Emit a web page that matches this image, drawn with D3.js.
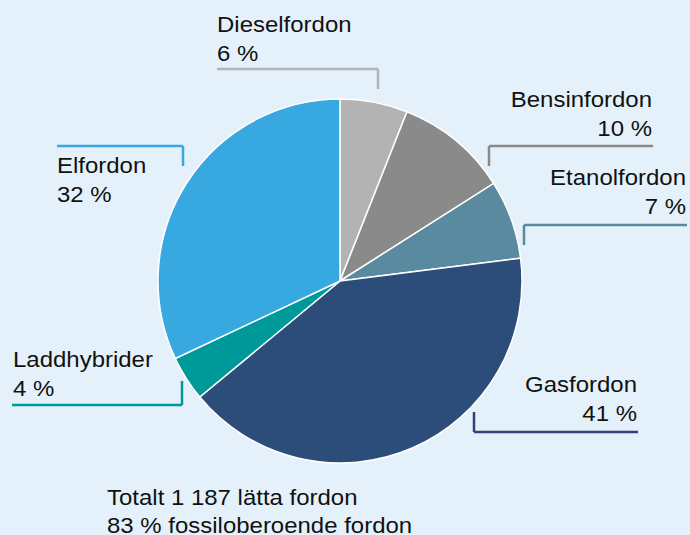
<!DOCTYPE html>
<html>
<head>
<meta charset="utf-8">
<script src="https://cdn.jsdelivr.net/npm/d3@7"></script>
<style>
  body { margin: 0; background: #e5f1fa; }
  svg text { font-family: "Liberation Sans", Arial, sans-serif; font-size: 22px; fill: #111; }
</style>
</head>
<body>
<div id="chart"></div>
<script>
var categories = ["Dieselfordon", "Bensinfordon", "Etanolfordon", "Gasfordon", "Laddhybrider", "Elfordon"];
var shares = [6, 10, 7, 41, 4, 32];
var colors = ["#b3b3b3", "#8a8a8a", "#5a8a9f", "#2c4d7a", "#00999a", "#38a8e0"];
var lineColors = ["#b3b3b3", "#8a8a8a", "#5a8a9f", "#3a3f78", "#00999a", "#38a8e0"];
var footer = ["Totalt 1 187 lätta fordon", "83 % fossiloberoende fordon"];

function init() {
    var w = 690, h = 535;
    var cx = 340, cy = 281, r = 182;
    var sx = 1.09; // reference type is set a little wider than Liberation Sans

    var svg = d3.select("#chart").append("svg")
        .attr("width", w).attr("height", h);

    var data = categories.map(function(c, i) {
        return { name: c, value: shares[i], color: colors[i], line: lineColors[i] };
    });

    var pie = d3.pie().sort(null).value(function(d) { return d.value; });
    var arc = d3.arc().innerRadius(0).outerRadius(r);

    svg.append("g")
        .attr("transform", "translate(" + cx + "," + cy + ")")
        .selectAll("path")
        .data(pie(data))
        .enter()
        .append("path")
        .attr("d", arc)
        .style("fill", function(d) { return d.data.color; })
        .style("stroke", "#fff")
        .style("stroke-width", 1.5);

    // label layout: text position, anchor, leader (horizontal line + tick)
    var labels = [
        { x: 217, y: 32, anchor: "start", hx1: 217, hx2: 378, hy: 69, vx: 378, vy: 89 },
        { x: 652, y: 107, anchor: "end", hx1: 489, hx2: 653, hy: 146, vx: 489, vy: 166 },
        { x: 686, y: 185, anchor: "end", hx1: 524, hx2: 687, hy: 225, vx: 524, vy: 245 },
        { x: 637, y: 392, anchor: "end", hx1: 474, hx2: 638, hy: 432, vx: 474, vy: 412 },
        { x: 13, y: 367, anchor: "start", hx1: 12, hx2: 182, hy: 405, vx: 182, vy: 381 },
        { x: 57, y: 173, anchor: "start", hx1: 57, hx2: 183, hy: 146, vx: 183, vy: 166 }
    ];

    var lab = svg.selectAll("g.lab")
        .data(data)
        .enter()
        .append("g")
        .attr("class", "lab");

    lab.append("path")
        .attr("d", function(d, i) {
            var L = labels[i];
            return "M" + L.hx1 + "," + L.hy + "H" + L.hx2 + "M" + L.vx + "," + L.hy + "V" + L.vy;
        })
        .style("fill", "none")
        .style("stroke", function(d) { return d.line; })
        .style("stroke-width", 2.5);

    var t = lab.append("text")
        .attr("transform", function(d, i) {
            return "translate(" + labels[i].x + "," + labels[i].y + ") scale(" + sx + ",1)";
        })
        .attr("text-anchor", function(d, i) { return labels[i].anchor; });
    t.append("tspan")
        .attr("x", 0)
        .attr("y", 0)
        .text(function(d) { return d.name; });
    t.append("tspan")
        .attr("x", 0)
        .attr("dy", 29)
        .text(function(d) { return d.value + " %"; });

    svg.selectAll("text.foot")
        .data(footer)
        .enter()
        .append("text")
        .attr("class", "foot")
        .attr("transform", function(d, i) {
            return "translate(107," + (505 + i * 28) + ") scale(" + sx + ",1)";
        })
        .text(function(d) { return d; });
}

window.onload = init;
</script>
</body>
</html>
